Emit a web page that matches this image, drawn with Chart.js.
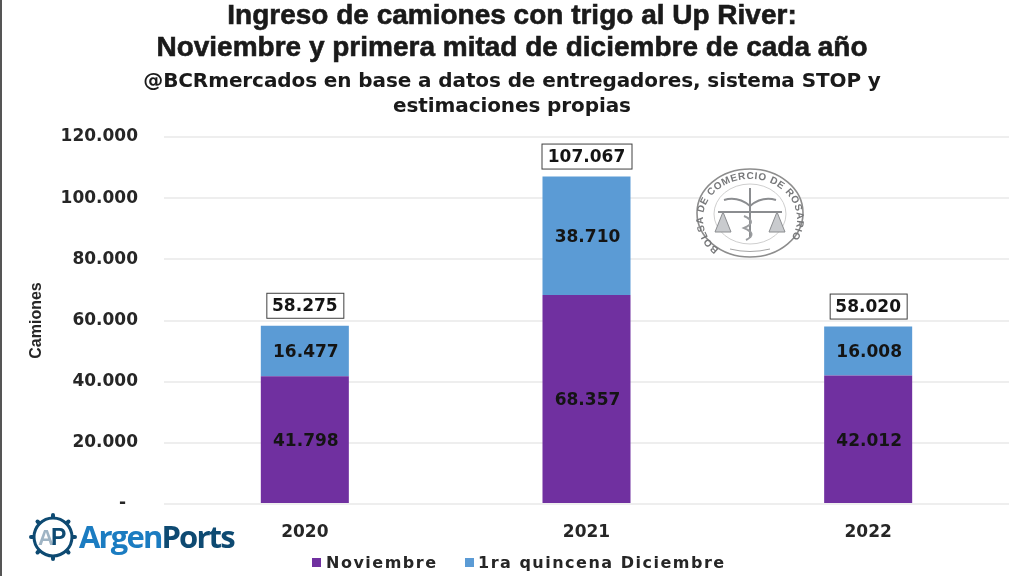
<!DOCTYPE html>
<html>
<head>
<meta charset="utf-8">
<style>
    html, body { margin: 0; padding: 0; background: #fff; }
    #wrap { position: relative; width: 1024px; height: 576px; overflow: hidden; background: #fff; }
    #chart { position: absolute; left: 0; top: 0; }
    #edge { position: absolute; left: 0; top: 0; width: 2px; height: 576px; background: #555; }
    .head { position: absolute; left: 0; width: 1024px; text-align: center; color: #1a1a1a; white-space: nowrap; font-family: "DejaVu Sans", sans-serif; font-weight: bold; }
    .main { font-family: "Liberation Sans", sans-serif; font-size: 28px; line-height: 30px; -webkit-text-stroke: 0.6px #1a1a1a; }
    .sub { font-size: 20px; line-height: 24px; letter-spacing: -0.1px; }
    #logo, #seal { position: absolute; overflow: visible; }
    #seal { filter: blur(0.4px); }
    #brand { position: absolute; left: 79px; top: 515px; font: bold 31px "Open Sans", sans-serif; letter-spacing: -1.85px; color: #1b7cc1; }
    #brand span { color: #0e4a72; }
    #legend { position: absolute; top: 553px; left: 0; font: bold 16px "DejaVu Sans", sans-serif; letter-spacing: 1.5px; color: #262626; white-space: nowrap; }
    #legend i { position: absolute; top: 5px; width: 9px; height: 9px; }
    #legend span { position: absolute; top: 0; }
</style>
</head>
<body>
<div id="wrap">
    <canvas id="chart" width="1024" height="576"></canvas>
    <div id="edge"></div>
    <div class="head main" style="top:0px">Ingreso de camiones con trigo al Up River:</div>
    <div class="head main" style="top:32px">Noviembre y primera mitad de diciembre de cada año</div>
    <div class="head sub" style="top:68px">@BCRmercados en base a datos de entregadores, sistema STOP y</div>
    <div class="head sub" style="top:93px">estimaciones propias</div>

    <svg id="seal" style="left:690px;top:162px" width="120" height="104" viewBox="0 0 120 104">
        <defs><path id="sealArc" d="M 29 87 A 47 40 0 1 1 91 87"></path></defs>
        <ellipse cx="60" cy="51" rx="53" ry="44" fill="#fff" stroke="#8d8d8d" stroke-width="1.6"></ellipse>
        <ellipse cx="60" cy="52" rx="36" ry="30" fill="none" stroke="#cfcfcf" stroke-width="1"></ellipse>
        <text font-family="Liberation Sans" font-size="10" font-weight="bold" fill="#77787a">
            <textPath href="#sealArc" textLength="192">BOLSA DE COMERCIO DE ROSARIO</textPath>
        </text>
        <path d="M60 26 L60 76 M34 38 Q48 34 60 44 Q72 34 86 38 M28 50 L92 50" stroke="#8b8d90" stroke-width="2" fill="none"></path>
        <path d="M54 54 Q68 60 54 66 Q68 72 56 78" stroke="#9a9c9f" stroke-width="2" fill="none"></path>
        <path d="M25 70 L33 50 L41 70 Z M79 70 L87 50 L95 70 Z" fill="#c9cbce" stroke="#8b8d90"></path>
        <path d="M40 87 Q60 92 80 87" stroke="#a5a5a5" fill="none"></path>
    </svg>

    <svg id="logo" style="left:28px;top:512px" width="50" height="50" viewBox="0 0 50 50">
        <circle cx="25" cy="25" r="19" fill="#fff" stroke="#0e4a72" stroke-width="3"></circle>
        <g stroke="#0e4a72" stroke-width="4" stroke-linecap="round">
            <path d="M25 3 V5 M25 45 V47 M3 25 H5 M45 25 H47 M9.5 9.5 L11 11 M39 39 L40.5 40.5 M9.5 40.5 L11 39 M39 11 L40.5 9.5"></path>
        </g>
        <text x="10" y="33" font-family="Liberation Sans" font-size="22" font-weight="bold" fill="#9fb4c4">A</text>
        <text x="23" y="33" font-family="Liberation Sans" font-size="23" font-weight="bold" fill="#0e4a72">P</text>
    </svg>
    <div id="brand">Argen<span>Ports</span></div>
    <div id="legend"></div>
</div>

<script src="https://cdn.jsdelivr.net/npm/chart.js@4/dist/chart.umd.min.js"></script>
<script>
const categories = ["2020", "2021", "2022"];
const noviembre = [41798, 68357, 42012];
const quincena = [16477, 38710, 16008];
const totales = [58275, 107067, 58020];
const seriesNames = ["Noviembre", "1ra quincena Diciembre"];
const totalLabels = ["58.275", "107.067", "58.020"];
const yTicks = [0, 20000, 40000, 60000, 80000, 100000, 120000];
const seriesColors = ["#7030a0", "#5b9bd5"];

const textColor = "#262626";
const labelFont = 'bold 17px "DejaVu Sans", sans-serif';

// 41798 -> 41.798
function formatMiles(value) {
    return String(value).replace(/\B(?=(\d{3})+$)/g, ".");
}

// values inside the bars and the boxed totals over each column
const barLabels = {
    id: "barLabels",
    afterDatasetsDraw(chart) {
        const ctx = chart.ctx;
        ctx.save();
        ctx.font = labelFont;
        ctx.textAlign = "center";
        ctx.textBaseline = "middle";
        ctx.fillStyle = "#141414";

        chart.data.datasets.forEach((dataset, i) => {
            chart.getDatasetMeta(i).data.forEach((bar, j) => {
                const mid = (bar.y + bar.base) / 2;
                ctx.fillText(formatMiles(dataset.data[j]), bar.x + 1, mid + 2);
            });
        });

        chart.getDatasetMeta(1).data.forEach((bar, j) => {
            const y = chart.scales.y.getPixelForValue(totales[j]);
            const boxW = totalLabels[j].length > 6 ? 90 : 77;
            ctx.fillStyle = "#fff";
            ctx.strokeStyle = "#404040";
            ctx.lineWidth = 1;
            ctx.fillRect(bar.x - boxW / 2, y - 33, boxW, 25);
            ctx.strokeRect(bar.x - boxW / 2 + 0.5, y - 32.5, boxW, 25);
            ctx.fillStyle = "#141414";
            ctx.fillText(totalLabels[j], bar.x, y - 19);
        });
        ctx.restore();
    }
};

new Chart(document.getElementById("chart"), {
    type: "bar",
    data: {
        labels: categories,
        datasets: [
            { label: seriesNames[0], data: noviembre, backgroundColor: seriesColors[0], stack: "a", barPercentage: 0.3125, categoryPercentage: 1 },
            { label: seriesNames[1], data: quincena, backgroundColor: seriesColors[1], stack: "a", barPercentage: 0.3125, categoryPercentage: 1 }
        ]
    },
    options: {
        responsive: false,
        animation: false,
        layout: { padding: { top: 137, right: 15, bottom: 0, left: 0 } },
        plugins: {
            legend: { display: false },
            tooltip: { enabled: false }
        },
        scales: {
            x: {
                stacked: true,
                afterFit(axis) { axis.height = 72; },
                grid: { display: false },
                border: { display: false },
                ticks: {
                    color: textColor,
                    padding: 10,
                    font: { family: "DejaVu Sans", size: 17, weight: "bold" }
                }
            },
            y: {
                stacked: true,
                min: 0,
                max: 120000,
                afterFit(axis) { axis.width = 164; },
                afterBuildTicks(axis) { axis.ticks = yTicks.map((value) => ({ value })); },
                grid: { color: "#eeeeee", lineWidth: 2, drawTicks: false },
                border: { display: false },
                title: {
                    display: true,
                    text: "Camiones",
                    color: textColor,
                    padding: { top: 27, bottom: 0 },
                    font: { family: "Liberation Sans", size: 16, weight: "bold" }
                },
                ticks: {
                    color: textColor,
                    padding: 26,
                    font: { family: "DejaVu Sans", size: 17, weight: "bold" },
                    callback: (value) => value === 0 ? "-  " : formatMiles(value)
                }
            }
        }
    },
    plugins: [barLabels]
});

// legend keys, built from the series names
const legendBox = document.getElementById("legend");
[[312, 326], [465, 478]].forEach((pos, i) => {
    const key = document.createElement("i");
    key.style.left = pos[0] + "px";
    key.style.background = seriesColors[i];
    const name = document.createElement("span");
    name.style.left = pos[1] + "px";
    name.textContent = seriesNames[i];
    legendBox.append(key, name);
});
</script>
</body>
</html>
